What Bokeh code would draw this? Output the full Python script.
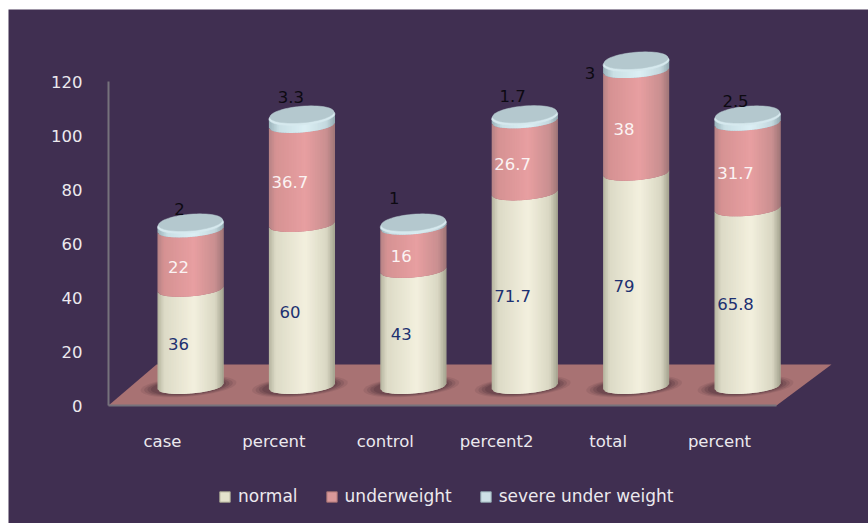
import numpy as np
from bokeh.core.properties import value
from bokeh.embed import file_html
from bokeh.models import ColumnDataSource, FixedTicker, Legend, LegendItem, LinearAxis, Range1d
from bokeh.plotting import figure
from bokeh.resources import INLINE

categories = ["case", "percent", "control", "percent2", "total", "percent"]
normal = [36, 60, 43, 71.7, 79, 65.8]
underweight = [22, 36.7, 16, 26.7, 38, 31.7]
severe = [2, 3.3, 1, 1.7, 3, 2.5]
series_names = ["normal", "underweight", "severe under weight"]
y_ticks = [0, 20, 40, 60, 80, 100, 120]

BG = "#402f51"
AXIS = "#76727c"
TEXT = "#ece9ee"
FONT = "DejaVu Sans"
SIZE = "16.5px"

# Plot scale: pixels per unit on both axes, and the perspective shift of the bars.
PX_X, PX_Y = 111.4, 2.7
DEPTH_X, DEPTH_Y = 28.0, 19.0
RADIUS, MINOR_SIDE, MINOR_TOP, TILT = 33.0, 7.0, 8.5, 0.08
FRAME_W, FRAME_H = 860, 514
BELOW_ZERO = 118  # frame space under the zero line, for category labels and legend
LEFT_OF_WALL = 100  # frame space left of the value axis, for its labels
X0_OFFSET = 54.0  # value axis to first category


def px_x(px):
    return px / PX_X


def px_y(px):
    return px / PX_Y


p = figure(
    width=860, height=514, frame_width=FRAME_W, frame_height=FRAME_H,
    margin=(9, 0, 0, 8), min_border_left=0, min_border_right=0, min_border_top=0, min_border_bottom=0,
    x_range=Range1d(-(X0_OFFSET + LEFT_OF_WALL) / PX_X, (FRAME_W - LEFT_OF_WALL - X0_OFFSET) / PX_X),
    y_range=Range1d(-BELOW_ZERO / PX_Y, (FRAME_H - BELOW_ZERO) / PX_Y),
    output_backend="svg", toolbar_location=None,
    background_fill_color=BG, border_fill_color=BG, outline_line_color=None,
    x_axis_location=None, y_axis_location=None,
)
p.grid.visible = False

# Value axis on the left, category axis along the front edge of the floor.
y_axis = LinearAxis(ticker=FixedTicker(ticks=y_ticks), bounds=(0, 120), fixed_location=-X0_OFFSET / PX_X)
y_axis.major_tick_line_color = None
y_axis.minor_tick_line_color = None
y_axis.axis_line_color = AXIS
y_axis.axis_line_width = 2
y_axis.major_label_standoff = 20
y_axis.major_label_text_color = TEXT
y_axis.major_label_text_font = FONT
y_axis.major_label_text_font_size = SIZE
p.add_layout(y_axis, "left")

# Floor plane in perspective.
floor_x = [-X0_OFFSET, 668 - X0_OFFSET, 723 - X0_OFFSET, 48 - X0_OFFSET]
floor_y = [0, 0, 41, 41]
p.patch([px_x(v) for v in floor_x], [px_y(v) for v in floor_y], fill_color="#a87273", line_color=None)

x_axis = LinearAxis(
    ticker=FixedTicker(ticks=list(range(len(categories)))),
    major_label_overrides={i: c for i, c in enumerate(categories)},
    bounds=(-X0_OFFSET / PX_X, (668 - X0_OFFSET) / PX_X),
    fixed_location=0,
)
x_axis.major_tick_line_color = None
x_axis.minor_tick_line_color = None
x_axis.axis_line_color = AXIS
x_axis.axis_line_width = 2
x_axis.major_label_standoff = 20
x_axis.major_label_text_color = TEXT
x_axis.major_label_text_font = FONT
x_axis.major_label_text_font_size = SIZE
p.add_layout(x_axis, "below")


def shade(t, stops):
    pos = [s[0] for s in stops]
    rgb = np.array([[int(s[1][i:i + 2], 16) for i in (1, 3, 5)] for s in stops], float)
    c = [np.interp(t, pos, rgb[:, k]) for k in range(3)]
    return "#%02x%02x%02x" % tuple(int(round(v)) for v in c)


CREAM = [(-1, "#b4b39e"), (-0.8, "#dcdac6"), (0.1, "#f3f0de"), (0.75, "#d9d7c3"), (1, "#a3a28e")]
PINK = [(-1, "#b58284"), (-0.8, "#d59293"), (0.1, "#e89fa1"), (0.75, "#c98f90"), (1, "#9f7577")]
ICE = [(-1, "#9ab3ba"), (-0.7, "#c9dfe5"), (0.1, "#dceff4"), (0.75, "#c3d8de"), (1, "#92a9b0")]
SURFACE = [(-1, "#c2d5da"), (0, "#b4c8ce"), (1, "#a6babf")]


def front_arc(u, level_px):
    """Height in pixels above the axis baseline of the near rim at horizontal offset u."""
    t = np.clip(u / RADIUS, -1, 1)
    return level_px + TILT * u - MINOR_SIDE * np.sqrt(1 - t * t)


edges = np.linspace(-1, 1, 41)
centres = [i + px_x(DEPTH_X) for i in range(len(categories))]

# Soft contact shadows on the floor, stacked from wide and faint to small and dark.
theta = np.linspace(0, 2 * np.pi, 60)
for scale, alpha in [(1.45, 0.14), (1.34, 0.2), (1.24, 0.28), (1.14, 0.34)]:
    xs, ys = [], []
    for c in centres:
        xs.append(c + px_x(-2 + scale * RADIUS * np.cos(theta)))
        ys.append(px_y(DEPTH_Y + scale * MINOR_SIDE * np.sin(theta) + TILT * scale * RADIUS * np.cos(theta)))
    p.patches(xs, ys, fill_color="#55363f", fill_alpha=alpha, line_color=None)

# Cylinders: each stacked segment is a run of thin vertical strips with its own shade.
# Every strip runs one strip too far right, and the next one paints over that overlap.
step = edges[1] - edges[0]
for c, a, b, d in zip(centres, normal, underweight, severe):
    levels = [0, a, a + b, a + b + d]
    for k, stops in enumerate([CREAM, PINK, ICE]):
        lo = DEPTH_Y + levels[k] * PX_Y
        hi = DEPTH_Y + levels[k + 1] * PX_Y
        xs, ys, fills = [], [], []
        for t0, t1 in zip(edges[:-1], edges[1:]):
            u0, u1 = t0 * RADIUS, min(t1 + step, 1.0) * RADIUS
            xs.append([c + px_x(u0), c + px_x(u1), c + px_x(u1), c + px_x(u0)])
            ys.append([px_y(front_arc(u0, lo)), px_y(front_arc(u1, lo)),
                       px_y(front_arc(u1, hi)), px_y(front_arc(u0, hi))])
            fills.append(shade((t0 + t1) / 2, stops))
        p.patches(xs, ys, fill_color=fills, line_color=None)

    # Top face of the stack, inset slightly inside a pale rim.
    top = DEPTH_Y + levels[3] * PX_Y
    for scale, lift, fill in [(1.0, 0, "#d6e9ee"), (0.97, 2.0, shade(0, SURFACE))]:
        u = scale * RADIUS * np.cos(theta)
        v = top + lift + TILT * u + scale * MINOR_TOP * np.sin(theta)
        p.patch(c + px_x(u), px_y(v), fill_color=fill, line_color=fill, line_width=0.5)

# Value labels; offsets keep them clear of each other on the cylinders.
label_font = dict(text_font=value(FONT), text_font_size=SIZE, text_align="center", text_baseline="middle")
mid_a = [DEPTH_Y / PX_Y + v / 2 for v in normal]
mid_b = [DEPTH_Y / PX_Y + a + b / 2 for a, b in zip(normal, underweight)]
tops = [DEPTH_Y / PX_Y + a + b + d for a, b, d in zip(normal, underweight, severe)]
p.text(centres, mid_a, text=[str(v) for v in normal], x_offset=-12, y_offset=6, text_color="#1d3070", **label_font)
p.text(centres, mid_b, text=[str(v) for v in underweight], x_offset=-12, y_offset=7, text_color="#fbf3f3", **label_font)
top_dx = [-11, -11, -19, -12, -46, -12]
top_dy = [-16, -20, -27, -20, 10, -16]
p.text("x", "y", text="t", x_offset="dx", y_offset="dy", text_color="#0d0a12",
       source=ColumnDataSource(dict(x=centres, y=tops, t=[str(v) for v in severe], dx=top_dx, dy=top_dy)),
       **label_font)

# Legend keys come from placeholder boxes that draw nothing inside the frame.
keys = []
for name, fill, edge in zip(series_names, ["#e4e2cd", "#d99899", "#cfe1e7"], ["#a7a692", "#a06f70", "#93aab1"]):
    r = p.quad(left=[np.nan], right=[np.nan], top=[np.nan], bottom=[np.nan], fill_color=fill, line_color=edge)
    keys.append(LegendItem(label=name, renderers=[r]))
legend = Legend(
    items=keys, orientation="horizontal", location=(LEFT_OF_WALL + 110, 17), padding=0, margin=0, spacing=27,
    glyph_width=13, glyph_height=13, label_height=13, label_standoff=7,
    background_fill_alpha=0, border_line_color=None,
    label_text_color=TEXT, label_text_font=FONT, label_text_font_size="17px",
)
p.add_layout(legend)

open("out.html", "w").write(file_html(p, INLINE))
